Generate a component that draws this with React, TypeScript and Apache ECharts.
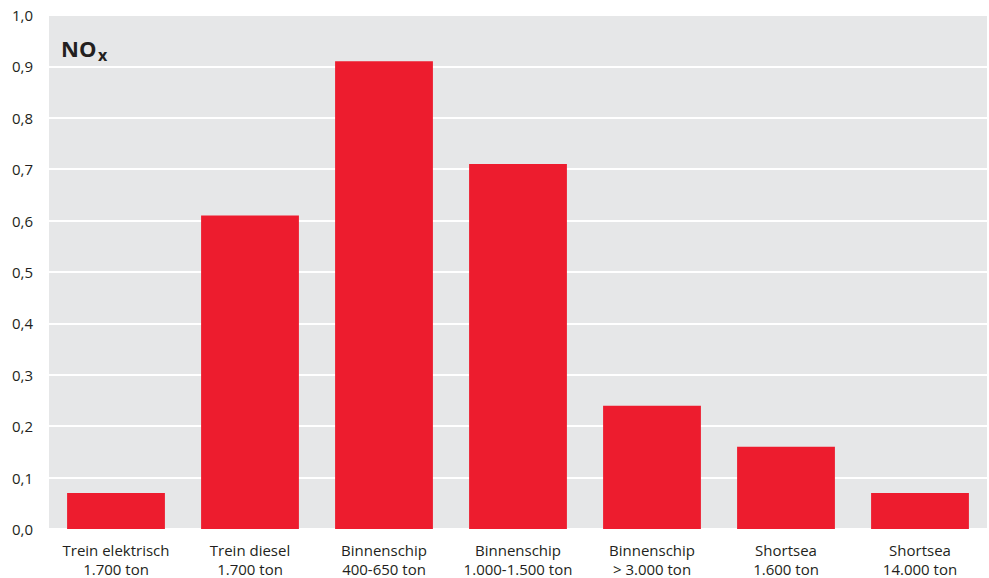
import React, { useEffect, useRef } from "react";
import * as echarts from "echarts";

const categories = [
  "Trein elektrisch\n1.700 ton",
  "Trein diesel\n1.700 ton",
  "Binnenschip\n400-650 ton",
  "Binnenschip\n1.000-1.500 ton",
  "Binnenschip\n> 3.000 ton",
  "Shortsea\n1.600 ton",
  "Shortsea\n14.000 ton",
];
const noxValues = [0.07, 0.61, 0.91, 0.71, 0.24, 0.16, 0.07];

const FONT = "'Open Sans', 'Noto Sans', sans-serif";

export default function App() {
  const ref = useRef<HTMLDivElement>(null);
  useEffect(() => {
    if (!ref.current) return;
    const chart = echarts.init(ref.current, null, { renderer: "svg" });
    chart.setOption({
      animation: false,
      backgroundColor: "#ffffff",
      grid: {
        left: 49,
        right: 2,
        top: 15,
        bottom: 48,
        show: true,
        backgroundColor: "#e6e7e8",
        borderWidth: 0,
      },
      graphic: [
        {
          type: "text",
          x: 61,
          y: 48,
          style: {
            text: "NO",
            fontFamily: FONT,
            fontSize: 22,
            fontWeight: "bold",
            fill: "#231f20",
            verticalAlign: "middle",
          },
        },
        {
          type: "text",
          x: 98,
          y: 55,
          style: {
            text: "x",
            fontFamily: FONT,
            fontSize: 16,
            fontWeight: "bold",
            fill: "#231f20",
            verticalAlign: "middle",
          },
        },
      ],
      xAxis: {
        type: "category",
        data: categories,
        axisLine: { show: false },
        axisTick: { show: false },
        axisLabel: {
          fontFamily: FONT,
          fontSize: 15,
          color: "#231f20",
          lineHeight: 19,
          margin: 11,
          interval: 0,
        },
      },
      yAxis: {
        type: "value",
        min: 0,
        max: 1,
        interval: 0.1,
        axisLine: { show: false },
        axisTick: { show: false },
        splitLine: { show: true, lineStyle: { color: "#ffffff", width: 2 } },
        axisLabel: {
          fontFamily: FONT,
          fontSize: 15,
          color: "#231f20",
          margin: 16,
          formatter: (v: number) => v.toFixed(1).replace(".", ","),
        },
      },
      series: [
        {
          type: "bar",
          data: noxValues,
          barWidth: "73%",
          itemStyle: { color: "#ed1c2e" },
        },
      ],
    });
    return () => chart.dispose();
  }, []);
  return (
    <div
      ref={ref}
      style={{ position: "absolute", left: 0, top: 0, width: 989, height: 578 }}
    />
  );
}
